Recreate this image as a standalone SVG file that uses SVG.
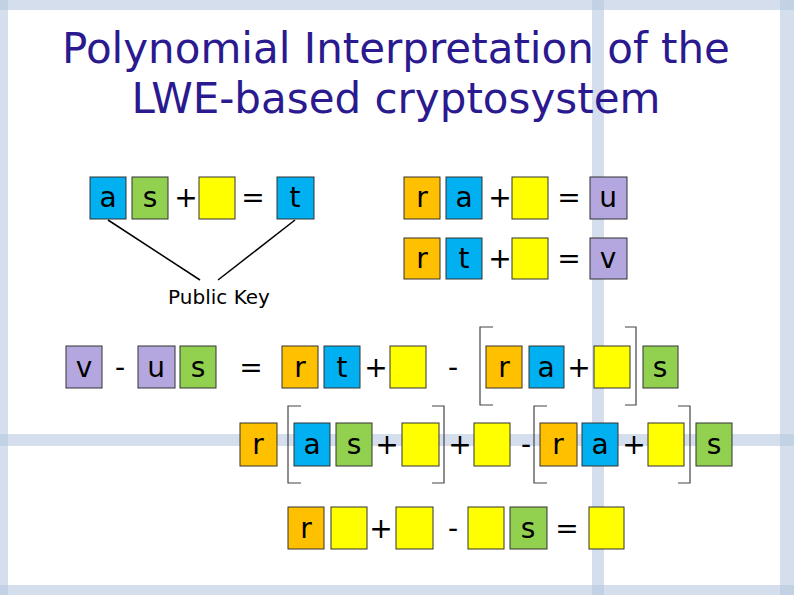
<svg xmlns="http://www.w3.org/2000/svg" width="794" height="595" viewBox="0 0 794 595">
<style>
.t{font-family:"DejaVu Sans",sans-serif;font-size:28px;fill:#000;text-anchor:middle}
.bl{fill:#00b0f0;stroke:#333;stroke-width:1}
.gr{fill:#92d050;stroke:#333;stroke-width:1}
.ye{fill:#ffff00;stroke:#333;stroke-width:1}
.or{fill:#ffc000;stroke:#333;stroke-width:1}
.pu{fill:#b4a7e0;stroke:#333;stroke-width:1}
.br{fill:none;stroke:#444;stroke-width:1.2}
.bg{fill:#b8c8e0;opacity:0.6}
</style>
<rect width="794" height="595" fill="#fff"/>
<g id="background">
<rect class="bg" x="0" y="0" width="794" height="10"/>
<rect class="bg" x="0" y="585" width="794" height="10"/>
<rect class="bg" x="0" y="0" width="8" height="595"/>
<rect class="bg" x="780" y="0" width="14" height="595"/>
<rect class="bg" x="0" y="434" width="794" height="12" opacity="0.5"/>
<rect class="bg" x="592" y="0" width="12" height="595" opacity="0.5"/>
</g>
<g id="title" font-family="DejaVu Sans, sans-serif" font-size="42" fill="#2b1a8f" text-anchor="middle">
<text x="396" y="63">Polynomial Interpretation of the</text>
<text x="396" y="113">LWE-based cryptosystem</text>
</g>
<g id="connectors" stroke="#000" stroke-width="1.5">
<line x1="108" y1="220" x2="200" y2="280"/>
<line x1="295" y1="220" x2="218" y2="280"/>
</g>
<g id="publickey"><text x="219" y="304" font-family="DejaVu Sans, sans-serif" font-size="20" text-anchor="middle">Public Key</text></g>
<g id="eq1">
<rect class="bl" x="90" y="177" width="36" height="42"/><text class="t" x="108" y="207">a</text>
<rect class="gr" x="132" y="177" width="36" height="42"/><text class="t" x="150" y="207">s</text>
<text class="t" x="186" y="207">+</text>
<rect class="ye" x="199" y="177" width="36" height="42"/>
<text class="t" x="253" y="207">=</text>
<rect class="bl" x="277" y="177" width="37" height="42"/><text class="t" x="295" y="207">t</text>
</g>
<g id="eq2">
<rect class="or" x="404" y="177" width="36" height="42"/><text class="t" x="422" y="207">r</text>
<rect class="bl" x="446" y="177" width="36" height="42"/><text class="t" x="464" y="207">a</text>
<text class="t" x="500" y="207">+</text>
<rect class="ye" x="512" y="177" width="36" height="42"/>
<text class="t" x="569" y="207">=</text>
<rect class="pu" x="590" y="177" width="37" height="42"/><text class="t" x="608" y="207">u</text>
</g>
<g id="eq3">
<rect class="or" x="404" y="238" width="36" height="41"/><text class="t" x="422" y="268">r</text>
<rect class="bl" x="446" y="238" width="36" height="41"/><text class="t" x="464" y="268">t</text>
<text class="t" x="500" y="268">+</text>
<rect class="ye" x="512" y="238" width="36" height="41"/>
<text class="t" x="569" y="268">=</text>
<rect class="pu" x="590" y="238" width="37" height="41"/><text class="t" x="608" y="268">v</text>
</g>
<g id="rowA">
<rect class="pu" x="66" y="346" width="36" height="42"/><text class="t" x="84" y="377">v</text>
<text class="t" x="120" y="377">-</text>
<rect class="pu" x="138" y="346" width="37" height="42"/><text class="t" x="156" y="377">u</text>
<rect class="gr" x="180" y="346" width="36" height="42"/><text class="t" x="198" y="377">s</text>
<text class="t" x="251" y="377">=</text>
<rect class="or" x="282" y="346" width="36" height="42"/><text class="t" x="300" y="377">r</text>
<rect class="bl" x="324" y="346" width="36" height="42"/><text class="t" x="342" y="377">t</text>
<text class="t" x="376" y="377">+</text>
<rect class="ye" x="390" y="346" width="36" height="42"/>
<text class="t" x="453" y="377">-</text>
<path class="br" d="M493 327 H480 V405 H493"/>
<rect class="or" x="486" y="346" width="36" height="42"/><text class="t" x="504" y="377">r</text>
<rect class="bl" x="529" y="346" width="35" height="42"/><text class="t" x="546" y="377">a</text>
<text class="t" x="579" y="377">+</text>
<rect class="ye" x="594" y="346" width="36" height="42"/>
<path class="br" d="M625 327 H636 V405 H625"/>
<rect class="gr" x="643" y="346" width="35" height="42"/><text class="t" x="660" y="377">s</text>
</g>
<g id="rowB">
<rect class="or" x="240" y="423" width="37" height="43"/><text class="t" x="258" y="454">r</text>
<path class="br" d="M301 406 H288 V483 H301"/>
<rect class="bl" x="294" y="423" width="36" height="43"/><text class="t" x="312" y="454">a</text>
<rect class="gr" x="336" y="423" width="36" height="43"/><text class="t" x="354" y="454">s</text>
<text class="t" x="387" y="454">+</text>
<rect class="ye" x="402" y="423" width="37" height="43"/>
<path class="br" d="M432 406 H444 V483 H432"/>
<text class="t" x="460" y="454">+</text>
<rect class="ye" x="474" y="423" width="36" height="43"/>
<text class="t" x="526" y="454">-</text>
<path class="br" d="M547 406 H534 V483 H547"/>
<rect class="or" x="540" y="423" width="37" height="43"/><text class="t" x="558" y="454">r</text>
<rect class="bl" x="582" y="423" width="36" height="43"/><text class="t" x="600" y="454">a</text>
<text class="t" x="634" y="454">+</text>
<rect class="ye" x="648" y="423" width="36" height="43"/>
<path class="br" d="M678 406 H690 V483 H678"/>
<rect class="gr" x="696" y="423" width="36" height="43"/><text class="t" x="714" y="454">s</text>
</g>
<g id="rowC">
<rect class="or" x="288" y="507" width="36" height="42"/><text class="t" x="306" y="538">r</text>
<rect class="ye" x="331" y="507" width="36" height="42"/>
<text class="t" x="381" y="538">+</text>
<rect class="ye" x="396" y="507" width="37" height="42"/>
<text class="t" x="453" y="538">-</text>
<rect class="ye" x="468" y="507" width="36" height="42"/>
<rect class="gr" x="510" y="507" width="37" height="42"/><text class="t" x="528" y="538">s</text>
<text class="t" x="567" y="538">=</text>
<rect class="ye" x="589" y="507" width="35" height="42"/>
</g>
</svg>
